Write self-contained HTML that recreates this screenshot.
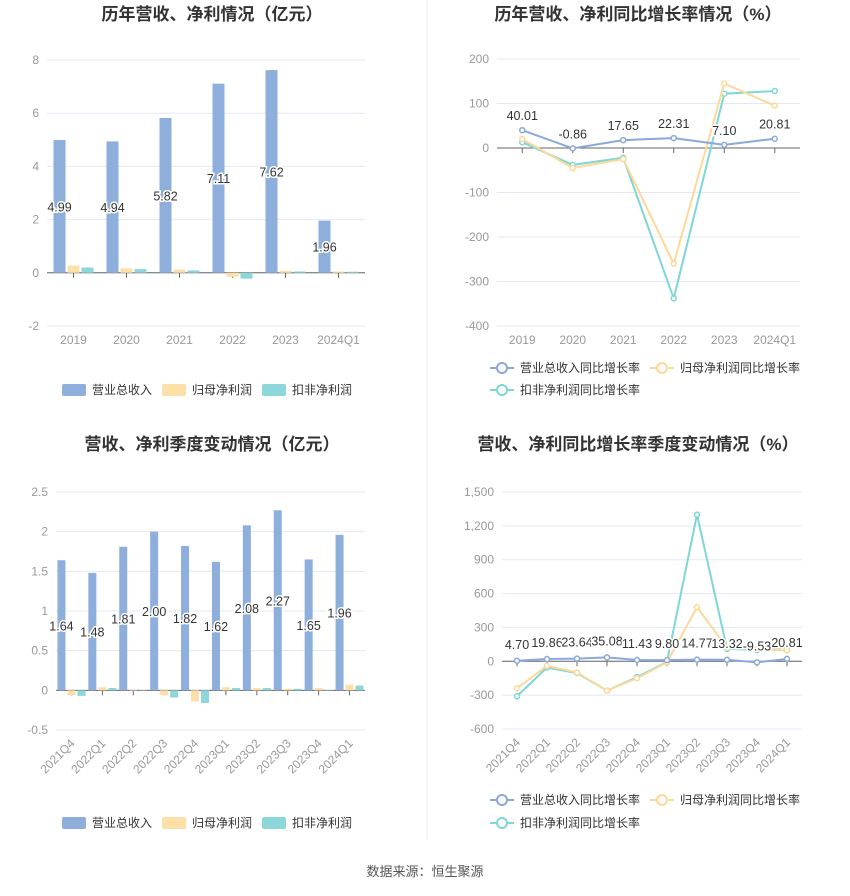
<!DOCTYPE html>
<html><head><meta charset="utf-8">
<style>
body{margin:0;background:#fff;font-family:"Liberation Sans","Noto Sans CJK SC",sans-serif;}
svg text{font-family:"Liberation Sans","Noto Sans CJK SC",sans-serif;}
</style></head>
<body>
<svg id="s" width="850" height="891" xmlns="http://www.w3.org/2000/svg">
<line x1="427" y1="0" x2="427" y2="840" stroke="#eee"/>
<text x="425" y="876" text-anchor="middle" font-size="13" fill="#555">数据来源：恒生聚源</text>
</svg>
<script>
const yearCats=["2019","2020","2021","2022","2023","2024Q1"];
const yearRev=[4.99,4.94,5.82,7.11,7.62,1.96];
const yearNet=[0.27,0.17,0.12,-0.15,0.08,0.05];
const yearDed=[0.2,0.14,0.09,-0.22,0.05,0.04];
const yearRevG=[40.01,-0.86,17.65,22.31,7.10,20.81];
const yearNetG=[20,-45,-25,-260,145,95];
const yearDedG=[13,-38,-22,-338,122,128];
const qCats=["2021Q4","2022Q1","2022Q2","2022Q3","2022Q4","2023Q1","2023Q2","2023Q3","2023Q4","2024Q1"];
const qRev=[1.64,1.48,1.81,2.00,1.82,1.62,2.08,2.27,1.65,1.96];
const qNet=[-0.06,0.04,0,-0.06,-0.14,0.04,0.03,0.02,0.03,0.07];
const qDed=[-0.07,0.03,0,-0.09,-0.16,0.03,0.03,0.02,0,0.06];
const qRevG=[4.70,19.86,23.64,35.08,11.43,9.80,14.77,13.32,-9.53,20.81];
const qNetG=[-240,-40,-100,-260,-150,-10,480,120,110,95];
const qDedG=[-310,-55,-105,-260,-140,-5,1300,110,100,125];
const t1=["-2","0","2","4","6","8"],t2=["-400","-300","-200","-100","0","100","200"];
const t3=["-0.5","0","0.5","1","1.5","2","2.5"],t4=["-600","-300","0","300","600","900","1,200","1,500"];
const C=["#8eaedb","#fddfa8","#8dd7d8"],CL=["#8aa8dc","#fcd99a","#7fd6d6"];
const S=document.getElementById('s'),NS="http://www.w3.org/2000/svg";
function el(t,a,p){const e=document.createElementNS(NS,t);for(const k in a)e.setAttribute(k,a[k]);(p||S).appendChild(e);return e;}
function txt(x,y,s,a,p){const e=el('text',Object.assign({x:x,y:y},a),p);e.textContent=s;return e;}
function chart(o){
 const g=el('g',{});
 
 
 const tt=txt(o.tx,o.ty,o.title,{'text-anchor':'middle','font-size':'17','font-weight':'bold',fill:'#333'},g);
 
 
 const ticks=o.ticks.map(s=>parseFloat(s.replace(',','')));
 const mn=ticks[0],mx=ticks[ticks.length-1];
 const Y=v=>o.y1-(v-mn)/(mx-mn)*(o.y1-o.y0);
 const n=o.cats.length,bw=(o.x1-o.x0)/n,X=i=>o.x0+bw*(i+0.5);
 o.ticks.forEach((s,i)=>{
  const y=Y(ticks[i]);
  const gl=el('line',{x1:o.x0,x2:o.x1,y1:y,y2:y,stroke:'#e3e8f4'},g);
  
  
  const tl=txt(o.x0-8,y+4,s,{'text-anchor':'end','font-size':'12',fill:'#999'},g);
  
  
 });
 el('line',{x1:o.x0,x2:o.x1,y1:Y(0),y2:Y(0),stroke:'#666'},g);
 o.cats.forEach((c,i)=>{
  const x=X(i),ly=o.y1+18;
  el('line',{x1:x,x2:x,y1:Y(0),y2:Y(0)+5,stroke:'#666'},g);
  const l=o.rot?txt(x+4,ly-4,c,{'text-anchor':'end','font-size':'12',fill:'#999',transform:`rotate(-45 ${x+4} ${ly-4})`},g):txt(x,ly,c,{'text-anchor':'middle','font-size':'12',fill:'#999'},g);
  
  
 });
 if(o.bars){
  const w=o.bw;
  o.series.forEach((arr,si)=>arr.forEach((v,i)=>{
   const x=X(i)+(si-1)*(w+2)-w/2;
   const y=Math.min(Y(v),Y(0)),h=Math.abs(Y(v)-Y(0));
   const r=el('rect',{x:x,y:y,width:w,height:Math.max(h,0.5),fill:C[si]},g);
   
   
  }));
  o.series[0].forEach((v,i)=>{
   const x=X(i)-(w+2);
   const l=txt(x,Y(v/2)+5,v.toFixed(2),{'text-anchor':'middle','font-size':'12.5',fill:'#333',stroke:'#fff','stroke-width':'3','paint-order':'stroke'},g);
   
   
  });
 } else {
  [2,1,0].forEach(si=>{
   const arr=o.series[si];
   const p=el('polyline',{points:arr.map((v,i)=>X(i)+','+Y(v)).join(' '),fill:'none',stroke:CL[si],'stroke-width':'2'},g);
   
   
   arr.forEach((v,i)=>{
    const c=el('circle',{cx:X(i),cy:Y(v),r:2.5,fill:'#fff',stroke:CL[si],'stroke-width':'1.5'},g);
    
    
   });
  });
  o.series[0].forEach((v,i)=>{
   const l=txt(X(i),Y(v)-o.lo,v.toFixed(2),{'text-anchor':'middle','font-size':'12.5',fill:'#333',stroke:'#fff','stroke-width':'3','paint-order':'stroke'},g);
   
   
  });
 }
 o.legend.forEach((L,i)=>{
  const lg=el('g',{},g);
  
  
  if(o.bars) el('rect',{x:L[0],y:L[1]-6,width:24,height:12,rx:2,fill:C[i]},lg);
  else{el('line',{x1:L[0],x2:L[0]+24,y1:L[1],y2:L[1],stroke:CL[i],'stroke-width':'2'},lg);el('circle',{cx:L[0]+12,cy:L[1],r:5,fill:'#fff',stroke:CL[i],'stroke-width':'2'},lg);}
  txt(L[0]+30,L[1]+4,o.names[i],{'font-size':'12',fill:'#333'},lg);
 });
}
const bn=["营业总收入","归母净利润","扣非净利润"],ln=["营业总收入同比增长率","归母净利润同比增长率","扣非净利润同比增长率"];
chart({name:'annual-revenue-profit-chart',title:'历年营收、净利情况（亿元）',tx:212,ty:20,x0:47,x1:365,y0:60,y1:326,ticks:t1,cats:yearCats,bars:true,bw:12,series:[yearRev,yearNet,yearDed],names:bn,legend:[[62,390],[162,390],[262,390]]});
chart({name:'annual-growth-chart',title:'历年营收、净利同比增长率情况（%）',tx:638,ty:20,x0:497,x1:800,y0:59,y1:326,ticks:t2,cats:yearCats,bars:false,lo:10,series:[yearRevG,yearNetG,yearDedG],names:ln,legend:[[490,368],[650,368],[490,390]]});
chart({name:'quarterly-revenue-profit-chart',title:'营收、净利季度变动情况（亿元）',tx:212,ty:450,x0:56,x1:365,y0:492,y1:730,ticks:t3,cats:qCats,bars:true,bw:8,rot:true,series:[qRev,qNet,qDed],names:bn,legend:[[62,823],[162,823],[262,823]]});
chart({name:'quarterly-growth-chart',title:'营收、净利同比增长率季度变动情况（%）',tx:638,ty:450,x0:502,x1:802,y0:492,y1:729,ticks:t4,cats:qCats,bars:false,rot:true,lo:12,series:[qRevG,qNetG,qDedG],names:ln,legend:[[490,800],[650,800],[490,823]]});
</script>
</body></html>
